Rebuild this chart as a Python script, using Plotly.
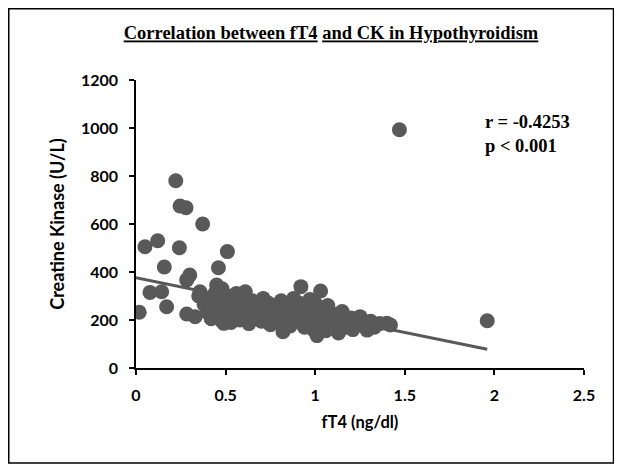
import plotly.graph_objects as go

# ---- data ----
ft4 = [0.018, 0.05, 0.078, 0.121, 0.143, 0.158, 0.171, 0.222, 0.242, 0.246, 0.279,
       0.283, 0.283, 0.30, 0.33, 0.357, 0.372, 0.45, 0.46, 0.49, 0.51,
       0.35, 0.38, 0.40, 0.41, 0.42, 0.43, 0.44, 0.45, 0.46, 0.47, 0.48, 0.48, 0.49,
       0.50, 0.51, 0.52, 0.53, 0.54, 0.55, 0.56, 0.57, 0.58, 0.60, 0.61, 0.62, 0.63,
       0.65, 0.66, 0.68, 0.70, 0.71, 0.72, 0.74, 0.75, 0.76, 0.78, 0.79, 0.80, 0.81,
       0.82, 0.82, 0.84, 0.85, 0.86, 0.87, 0.88, 0.89, 0.90, 0.907, 0.91, 0.92, 0.93,
       0.94, 0.95, 0.96, 0.97, 0.98, 0.99, 1.00, 1.01, 1.01, 1.02, 1.03, 1.04, 1.05,
       1.06, 1.07, 1.08, 1.09, 1.10, 1.11, 1.13, 1.14, 1.15, 1.17, 1.18, 1.20, 1.21,
       1.23, 1.25, 1.27, 1.29, 1.31, 1.33, 1.36, 1.40, 1.42, 1.47, 1.96]
ck = [232, 505, 315, 530, 318, 421, 255, 780, 501, 675, 668,
      225, 367, 387, 214, 318, 600, 346, 418, 186, 485,
      300, 265, 230, 290, 205, 255, 310, 240, 215, 280, 330, 195, 260,
      225, 300, 250, 190, 275, 215, 310, 245, 200, 265, 318, 230, 185,
      280, 210, 250, 195, 290, 230, 270, 180, 215, 255, 190, 214, 280,
      151, 240, 200, 265, 175, 225, 290, 195, 250, 270, 270, 339, 210,
      170, 240, 190, 285, 225, 160, 270, 135, 205, 245, 321, 180, 230,
      155, 260, 200, 229, 175, 215, 146, 195, 235, 170, 205, 208, 160,
      190, 214, 175, 158, 195, 170, 185, 186, 179, 993, 197]

trend_x = [0.0, 1.96]
trend_y = [376, 78]

x_ticks = [0, 0.5, 1, 1.5, 2, 2.5]
x_tick_text = ["0", "0.5", "1", "1.5", "2", "2.5"]
y_ticks = [0, 200, 400, 600, 800, 1000, 1200]

title_text = ('<span style="text-decoration:underline">Correlation between fT4</span> '
              '<span style="text-decoration:underline">and CK in Hypothyroidism</span>')
stats_text = "r = -0.4253<br>p < 0.001"

gray = "#595959"
sans = "Lato, Open Sans, sans-serif"
serif = "Liberation Serif, Times New Roman, serif"

# figure sits at an 8px page offset; plot area spans page x 136-584, y 80-368
W, H = 614, 460
L, T = 128, 72
PW, PH = 448, 288

def px(x):  # figure-pixel -> paper x
    return (x - L) / PW

def py(y):  # figure-pixel -> paper y
    return (T + PH - y) / PH

fig = go.Figure()
fig.add_trace(go.Scatter(x=ft4, y=ck, mode="markers",
                         marker=dict(size=15, color=gray, line=dict(width=0)),
                         showlegend=False, hoverinfo="skip"))
fig.add_trace(go.Scatter(x=trend_x, y=trend_y, mode="lines",
                         line=dict(color=gray, width=3),
                         showlegend=False, hoverinfo="skip"))

fig.update_layout(
    width=W, height=H,
    margin=dict(l=L, r=W - L - PW, t=T, b=H - T - PH),
    paper_bgcolor="white", plot_bgcolor="white",
    title=dict(text="<b>" + title_text + "</b>", x=(331 - 8) / W, xanchor="center",
               y=1 - (33 - 8) / H, yanchor="middle",
               font=dict(family=serif, size=18.5, color="black")),
    xaxis=dict(range=[0, 2.5], tickvals=x_ticks, ticktext=x_tick_text,
               showgrid=False, zeroline=False, showline=True, linecolor="black",
               linewidth=1.5, ticks="outside", ticklen=5, tickwidth=1.5,
               tickcolor="black", ticklabelstandoff=7,
               tickfont=dict(family=sans, size=16, color="black", weight="bold"),
               title=dict(text="<b>fT4 (ng/dl)</b>", standoff=13,
                          font=dict(family=sans, size=16.5, color="black"))),
    yaxis=dict(range=[0, 1200], tickvals=y_ticks,
               showgrid=False, zeroline=False, showline=True, linecolor="black",
               linewidth=1.5, ticks="outside", ticklen=5, tickwidth=1.5,
               tickcolor="black", ticklabelstandoff=8,
               tickfont=dict(family=sans, size=16, color="black", weight="bold"),
               title=dict(text="<b>Creatine Kinase (U/L)</b>", standoff=12,
                          font=dict(family=sans, size=18, color="black"))),
    annotations=[dict(text="<b>" + stats_text + "</b>", xref="paper", yref="paper",
                      x=px(483 - 8), y=py(110 - 8),
                      xanchor="left", yanchor="top", align="left", showarrow=False,
                      font=dict(family=serif, size=18.5, color="black"))],
    shapes=[dict(type="rect", xref="paper", yref="paper",
                 x0=px(0.75), x1=px(605.5),
                 y0=py(455), y1=py(0.75),
                 line=dict(color="black", width=1.5), fillcolor="rgba(0,0,0,0)")],
)

fig.write_html("out.html")
